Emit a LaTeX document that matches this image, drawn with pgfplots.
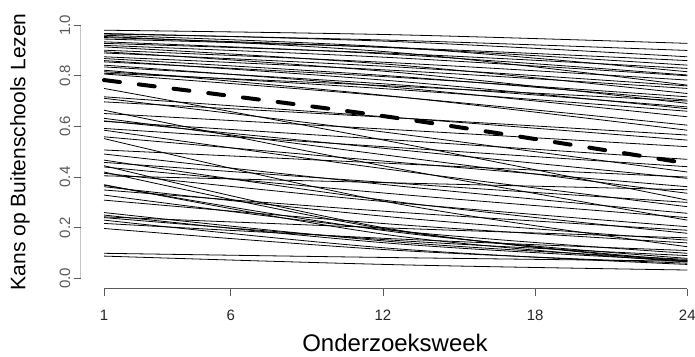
\documentclass[border=0pt]{standalone}
\usepackage{fontspec}
\setmainfont{Liberation Sans}
\usepackage{pgfplots}
\pgfplotsset{compat=1.18}
\definecolor{axgray}{HTML}{595959}
\begin{document}
\begin{tikzpicture}[x=1pt,y=1pt]
\useasboundingbox (0,0) rectangle (695,356);
\begin{axis}[
  at={(80.7pt,67.5pt)}, anchor=south west,
  scale only axis, width=629.9pt, height=273.5pt,
  xmin=0.08, xmax=24.92, ymin=-0.04, ymax=1.04,
  axis x line*=bottom, axis y line*=left,
  axis line style={draw=none},
  xtick={1,6,12,18,24},
  ytick={0,0.2,0.4,0.6,0.8,1},
  yticklabels={0.0,0.2,0.4,0.6,0.8,1.0},
  tick align=outside, major tick length=7pt,
  tick style={axgray, line width=0.8pt},
  /pgf/number format/assume math mode=true,
  ticklabel style={font=\fontsize{15}{15}\selectfont},
  xticklabel style={text=black!85, yshift=-11pt},
  yticklabel style={rotate=90, anchor=south, text=axgray},
  xlabel={Onderzoeksweek},
  ylabel={Kans op Buitenschools Lezen},
  xlabel style={at={(axis description cs:0.499,-0.199)}, anchor=center, font=\fontsize{24}{24}\selectfont},
  ylabel style={at={(axis description cs:-0.0964,0.5)}, anchor=center, rotate=0, font=\fontsize{21}{21}\selectfont},
  cycle list={{black,solid,mark=none}},
  every axis plot/.append style={line width=0.8pt, smooth, tension=0.6},
]
\draw[axgray, line width=0.8pt] (axis cs:1,-0.04) -- (axis cs:24,-0.04);
\draw[axgray, line width=0.8pt] (axis cs:0.08,0) -- (axis cs:0.08,1);
\addplot coordinates {(1,0.980) (12.5,0.962) (24,0.928)};
\addplot coordinates {(1,0.967) (12.5,0.935) (24,0.875)};
\addplot coordinates {(1,0.965) (12.5,0.940) (24,0.900)};
\addplot coordinates {(1,0.960) (12.5,0.912) (24,0.816)};
\addplot coordinates {(1,0.955) (12.5,0.892) (24,0.763)};
\addplot coordinates {(1,0.951) (12.5,0.910) (24,0.842)};
\addplot coordinates {(1,0.945) (12.5,0.911) (24,0.860)};
\addplot coordinates {(1,0.934) (12.5,0.884) (24,0.803)};
\addplot coordinates {(1,0.928) (12.5,0.888) (24,0.829)};
\addplot coordinates {(1,0.920) (12.5,0.871) (24,0.800)};
\addplot coordinates {(1,0.914) (12.5,0.843) (24,0.730)};
\addplot coordinates {(1,0.901) (12.5,0.851) (24,0.783)};
\addplot coordinates {(1,0.895) (12.5,0.814) (24,0.691)};
\addplot coordinates {(1,0.890) (12.5,0.835) (24,0.760)};
\addplot coordinates {(1,0.875) (12.5,0.821) (24,0.750)};
\addplot coordinates {(1,0.868) (12.5,0.798) (24,0.704)};
\addplot coordinates {(1,0.860) (12.5,0.779) (24,0.670)};
\addplot coordinates {(1,0.855) (12.5,0.794) (24,0.717)};
\addplot coordinates {(1,0.842) (12.5,0.754) (24,0.638)};
\addplot coordinates {(1,0.835) (12.5,0.765) (24,0.677)};
\addplot coordinates {(1,0.822) (12.5,0.718) (24,0.585)};
\addplot coordinates {(1,0.816) (12.5,0.746) (24,0.660)};
\addplot coordinates {(1,0.810) (12.5,0.759) (24,0.700)};
\addplot coordinates {(1,0.807) (12.5,0.717) (24,0.605)};
\addplot coordinates {(1,0.750) (12.5,0.537) (24,0.309)};
\addplot coordinates {(1,0.717) (12.5,0.635) (24,0.546)};
\addplot coordinates {(1,0.711) (12.5,0.572) (24,0.420)};
\addplot coordinates {(1,0.697) (12.5,0.634) (24,0.566)};
\addplot coordinates {(1,0.664) (12.5,0.435) (24,0.230)};
\addplot coordinates {(1,0.651) (12.5,0.587) (24,0.520)};
\addplot coordinates {(1,0.632) (12.5,0.482) (24,0.336)};
\addplot coordinates {(1,0.622) (12.5,0.509) (24,0.395)};
\addplot coordinates {(1,0.620) (12.5,0.546) (24,0.470)};
\addplot coordinates {(1,0.592) (12.5,0.517) (24,0.441)};
\addplot coordinates {(1,0.585) (12.5,0.427) (24,0.283)};
\addplot coordinates {(1,0.559) (12.5,0.459) (24,0.362)};
\addplot coordinates {(1,0.552) (12.5,0.296) (24,0.125)};
\addplot coordinates {(1,0.507) (12.5,0.453) (24,0.400)};
\addplot coordinates {(1,0.491) (12.5,0.366) (24,0.257)};
\addplot coordinates {(1,0.467) (12.5,0.303) (24,0.178)};
\addplot coordinates {(1,0.458) (12.5,0.376) (24,0.300)};
\addplot coordinates {(1,0.445) (12.5,0.192) (24,0.066)};
\addplot coordinates {(1,0.440) (12.5,0.333) (24,0.240)};
\addplot coordinates {(1,0.420) (12.5,0.189) (24,0.070)};
\addplot coordinates {(1,0.415) (12.5,0.299) (24,0.204)};
\addplot coordinates {(1,0.405) (12.5,0.377) (24,0.350)};
\addplot coordinates {(1,0.370) (12.5,0.168) (24,0.065)};
\addplot coordinates {(1,0.368) (12.5,0.183) (24,0.079)};
\addplot coordinates {(1,0.362) (12.5,0.241) (24,0.151)};
\addplot coordinates {(1,0.349) (12.5,0.262) (24,0.190)};
\addplot coordinates {(1,0.329) (12.5,0.188) (24,0.099)};
\addplot coordinates {(1,0.309) (12.5,0.213) (24,0.140)};
\addplot coordinates {(1,0.260) (12.5,0.144) (24,0.075)};
\addplot coordinates {(1,0.250) (12.5,0.137) (24,0.070)};
\addplot coordinates {(1,0.243) (12.5,0.198) (24,0.160)};
\addplot coordinates {(1,0.240) (12.5,0.150) (24,0.090)};
\addplot coordinates {(1,0.230) (12.5,0.117) (24,0.055)};
\addplot coordinates {(1,0.217) (12.5,0.156) (24,0.110)};
\addplot coordinates {(1,0.197) (12.5,0.111) (24,0.060)};
\addplot coordinates {(1,0.099) (12.5,0.082) (24,0.068)};
\addplot coordinates {(1,0.088) (12.5,0.054) (24,0.033)};
\addplot[black, line width=4pt, dash pattern=on 16pt off 19pt, line cap=round] coordinates {(1,0.783) (12.5,0.634) (24,0.454)};
\end{axis}
\end{tikzpicture}
\end{document}
